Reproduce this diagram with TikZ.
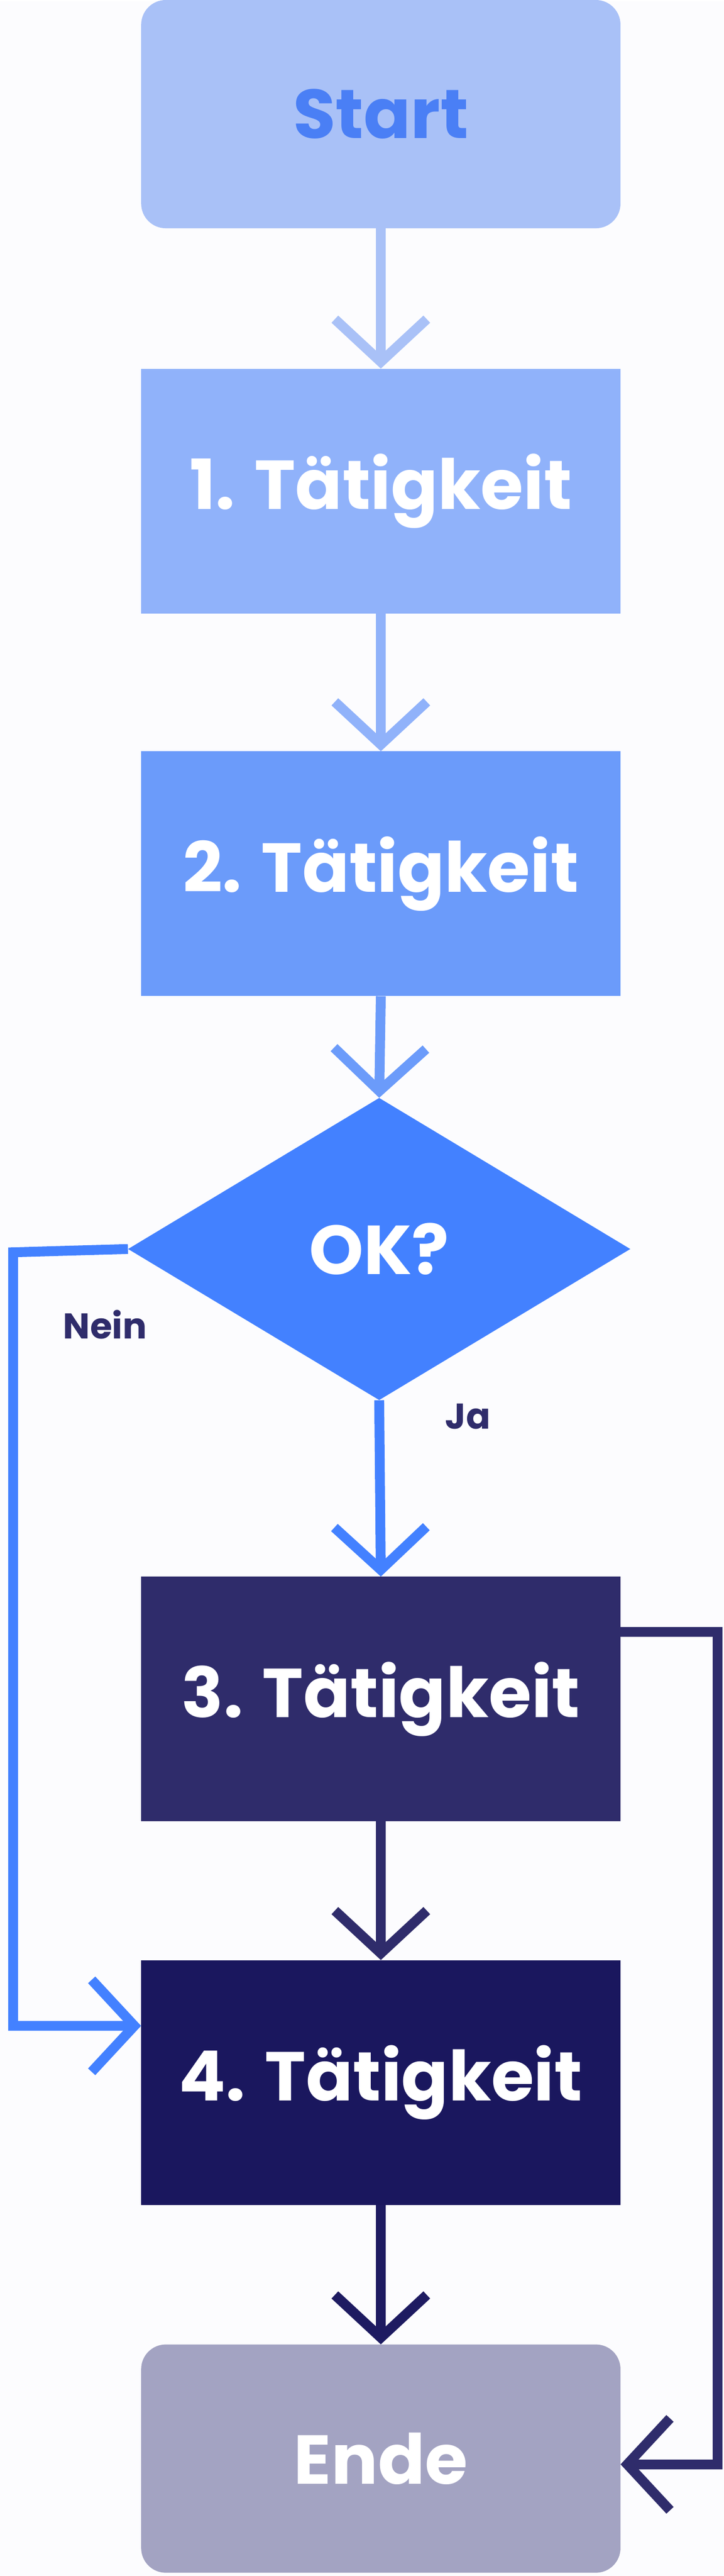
\documentclass[tikz,border=0pt]{standalone}
\usepackage{fontspec}
\setmainfont{Poppins}
\usetikzlibrary{arrows.meta,shapes.geometric}
\definecolor{cA}{HTML}{A9C1F7}
\definecolor{cB}{HTML}{90B2FA}
\definecolor{cC}{HTML}{6B9BFA}
\definecolor{cD}{HTML}{4381FF}
\definecolor{cE}{HTML}{2F2C6B}
\definecolor{cF}{HTML}{1A175E}
\definecolor{cG}{HTML}{A3A3C2}
\definecolor{tS}{HTML}{4A7FF5}
\definecolor{bg}{HTML}{FCFCFE}
\begin{document}
\begin{tikzpicture}[x=0.1cm,y=-0.1cm,
 box/.style={draw=none,minimum width=29.2cm,minimum height=14.9cm,inner sep=0,text=white,font=\fontsize{120}{120}\selectfont\bfseries},
 term/.style={box,rounded corners=1.5cm,minimum height=13.9cm},
 ar/.style={line width=0.6cm,-{Straight Barb[length=2.6cm,width=5.6cm,line width=0.6cm]},line join=miter},
 lab/.style={text=cE,font=\fontsize{62}{62}\selectfont\bfseries,inner sep=0}]
\fill[bg] (0,0) rectangle (441,1568);
\node[term,fill=cA,text=tS] (s) at (232,69) {Start};
\node[box,fill=cB] (a1) at (232,298.5) {1. Tätigkeit};
\node[box,fill=cC] (a2) at (232,531.5) {2. Tätigkeit};
\node[diamond,aspect=1.66,fill=cD,minimum width=30.6cm,minimum height=18.4cm,inner sep=0,text=white,font=\fontsize{120}{120}\selectfont\bfseries] (ok) at (231,760) {OK?};
\node[box,fill=cE] (a3) at (232,1034) {3. Tätigkeit};
\node[box,fill=cF] (a4) at (232,1267.5) {4. Tätigkeit};
\node[term,fill=cG] (e) at (232,1496.5) {Ende};
\draw[ar,draw=cA] (s.south) -- (a1.north);
\draw[ar,draw=cB] (a1.south) -- (a2.north);
\draw[ar,draw=cC] (a2.south) -- (ok.north);
\draw[ar,draw=cD] (ok.south) -- (a3.north);
\draw[ar,draw=cE] (a3.south) -- (a4.north);
\draw[ar,draw=cF!80!cE] (a4.south) -- (e.north);
\draw[ar,draw=cD] (ok.west) -- (8,762) -- (8,1233) -- (a4.west|-0,1233);
\draw[ar,draw=cE] (a3.east|-0,993) -- (437,993) -- (437,1500) -- (e.east|-0,1500);
\node[lab] (nein) at (64,806) {Nein};
\node[lab] (ja) at (285,862) {Ja};
\end{tikzpicture}
\end{document}
